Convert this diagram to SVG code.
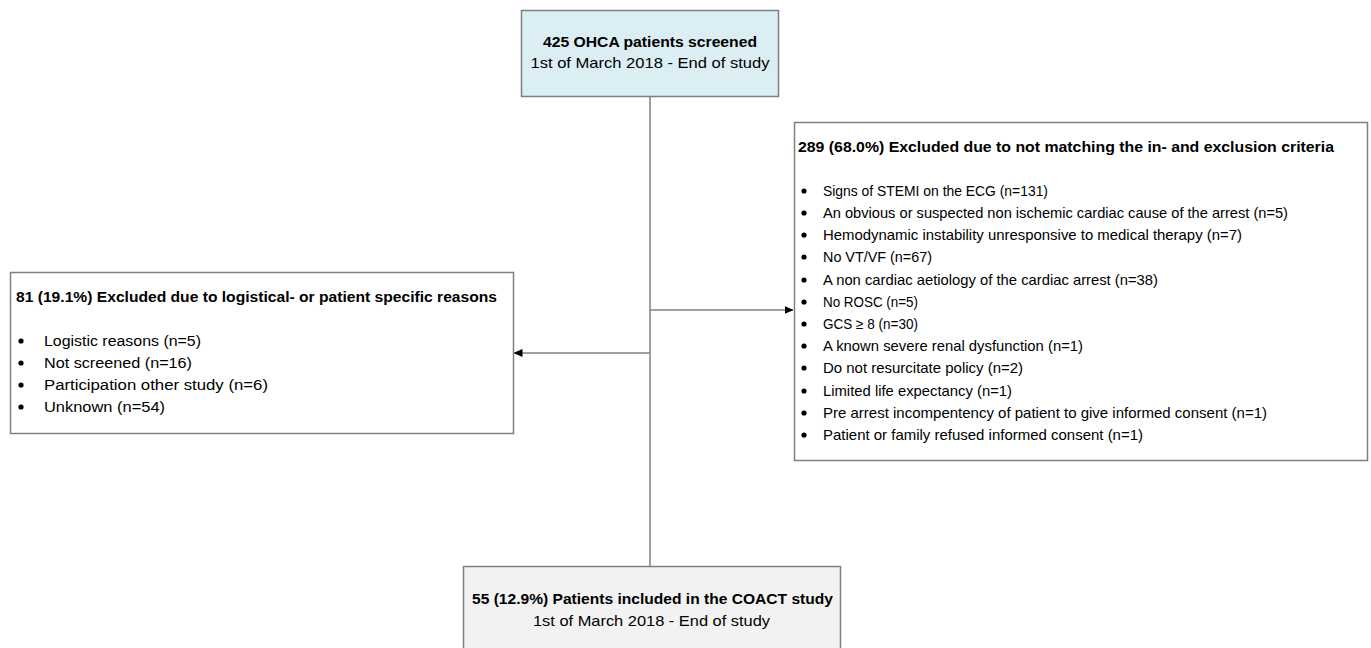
<svg xmlns="http://www.w3.org/2000/svg" width="1371" height="648" viewBox="0 0 1371 648">
<style>
.box{stroke:#7f7f7f;stroke-width:1.5}
.t{font-family:"Liberation Sans",Arial,sans-serif;font-size:14.5px;fill:#000}
.l{font-size:15.5px}
.b{font-weight:bold;font-size:14.5px}
.c{text-anchor:middle}
.line{stroke:#7f7f7f;stroke-width:1.5;fill:none}
</style>
<defs>
<marker id="ah" markerWidth="9" markerHeight="8" refX="8.5" refY="4" orient="auto" markerUnits="userSpaceOnUse">
<path d="M0,0 L9,4 L0,8 Z" fill="#000"/>
</marker>
</defs>
<rect width="1371" height="648" fill="#fff"/>
<g id="connectors">
<line class="line" x1="650" y1="96" x2="650" y2="566"/>
<line class="line" x1="650" y1="310" x2="793" y2="310" marker-end="url(#ah)"/>
<line class="line" x1="650" y1="353" x2="514" y2="353" marker-end="url(#ah)"/>
</g>
<g id="screened">
<rect class="box" x="521.5" y="10.5" width="257" height="86" fill="#dbeef4"/>
<text class="t b c" x="650" y="47" textLength="214" lengthAdjust="spacingAndGlyphs">425 OHCA patients screened</text>
<text class="t c" x="650" y="68" textLength="239" lengthAdjust="spacingAndGlyphs">1st of March 2018 - End of study</text>
</g>
<g id="excluded-logistic">
<rect class="box" x="10.5" y="272.5" width="503" height="161" fill="#fff"/>
<text class="t b" x="16" y="302" textLength="481" lengthAdjust="spacingAndGlyphs">81 (19.1%) Excluded due to logistical- or patient specific reasons</text>
<g class="t l">
<circle cx="21" cy="341" r="2.6"/><text x="44" y="346" textLength="157" lengthAdjust="spacingAndGlyphs">Logistic reasons (n=5)</text>
<circle cx="21" cy="363" r="2.6"/><text x="44" y="368" textLength="148" lengthAdjust="spacingAndGlyphs">Not screened (n=16)</text>
<circle cx="21" cy="385" r="2.6"/><text x="44" y="390" textLength="224" lengthAdjust="spacingAndGlyphs">Participation other study (n=6)</text>
<circle cx="21" cy="407" r="2.6"/><text x="44" y="412" textLength="121" lengthAdjust="spacingAndGlyphs">Unknown (n=54)</text>
</g>
</g>
<g id="excluded-criteria">
<rect class="box" x="794.5" y="122.5" width="573" height="338" fill="#fff"/>
<text class="t b" x="798" y="152" textLength="536" lengthAdjust="spacingAndGlyphs">289 (68.0%) Excluded due to not matching the in- and exclusion criteria</text>
<g class="t">
<circle cx="804" cy="191" r="2.6"/><text x="823" y="196" textLength="225" lengthAdjust="spacingAndGlyphs">Signs of STEMI on the ECG (n=131)</text>
<circle cx="804" cy="213" r="2.6"/><text x="823" y="218" textLength="465" lengthAdjust="spacingAndGlyphs">An obvious or suspected non ischemic cardiac cause of the arrest (n=5)</text>
<circle cx="804" cy="235" r="2.6"/><text x="823" y="240" textLength="419" lengthAdjust="spacingAndGlyphs">Hemodynamic instability unresponsive to medical therapy (n=7)</text>
<circle cx="804" cy="257" r="2.6"/><text x="823" y="262" textLength="109" lengthAdjust="spacingAndGlyphs">No VT/VF (n=67)</text>
<circle cx="804" cy="280" r="2.6"/><text x="823" y="285" textLength="335" lengthAdjust="spacingAndGlyphs">A non cardiac aetiology of the cardiac arrest (n=38)</text>
<circle cx="804" cy="302" r="2.6"/><text x="823" y="307" textLength="95" lengthAdjust="spacingAndGlyphs">No ROSC (n=5)</text>
<circle cx="804" cy="324" r="2.6"/><text x="823" y="329" textLength="95" lengthAdjust="spacingAndGlyphs">GCS ≥ 8 (n=30)</text>
<circle cx="804" cy="346" r="2.6"/><text x="823" y="351" textLength="260" lengthAdjust="spacingAndGlyphs">A known severe renal dysfunction (n=1)</text>
<circle cx="804" cy="368" r="2.6"/><text x="823" y="373" textLength="200" lengthAdjust="spacingAndGlyphs">Do not resurcitate policy (n=2)</text>
<circle cx="804" cy="391" r="2.6"/><text x="823" y="396" textLength="189" lengthAdjust="spacingAndGlyphs">Limited life expectancy (n=1)</text>
<circle cx="804" cy="413" r="2.6"/><text x="823" y="418" textLength="444" lengthAdjust="spacingAndGlyphs">Pre arrest incompentency of patient to give informed consent (n=1)</text>
<circle cx="804" cy="435" r="2.6"/><text x="823" y="440" textLength="320" lengthAdjust="spacingAndGlyphs">Patient or family refused informed consent (n=1)</text>
</g>
</g>
<g id="included">
<rect class="box" x="463.5" y="566.5" width="377" height="90" fill="#f2f2f2"/>
<text class="t b c" x="652.5" y="604" textLength="361" lengthAdjust="spacingAndGlyphs">55 (12.9%) Patients included in the COACT study</text>
<text class="t c" x="651.5" y="626" textLength="237" lengthAdjust="spacingAndGlyphs">1st of March 2018 - End of study</text>
</g>
</svg>
